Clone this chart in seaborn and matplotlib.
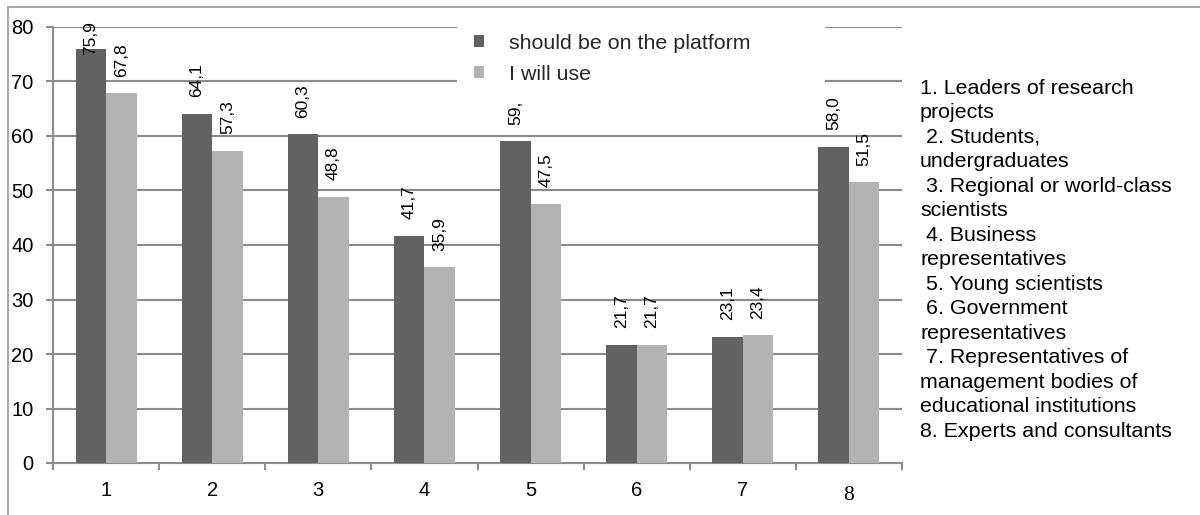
import matplotlib
matplotlib.use("Agg")
import matplotlib.pyplot as plt
import seaborn as sns
import pandas as pd
from matplotlib.patches import Rectangle
from matplotlib.ticker import MultipleLocator, FixedLocator

categories = ["1", "2", "3", "4", "5", "6", "7", "8"]
series_names = ["should be on the platform", "I will use"]
should_be = [75.9, 64.1, 60.3, 41.7, 59.0, 21.7, 23.1, 58.0]
will_use = [67.8, 57.3, 48.8, 35.9, 47.5, 21.7, 23.4, 51.5]
should_be_labels = ["75,9", "64,1", "60,3", "41,7", "59,", "21,7", "23,1", "58,0"]
will_use_labels = ["67,8", "57,3", "48,8", "35,9", "47,5", "21,7", "23,4", "51,5"]
side_text = [
    "1. Leaders of research",
    "projects",
    " 2. Students,",
    "undergraduates",
    " 3. Regional or world-class",
    "scientists",
    " 4. Business",
    "representatives",
    " 5. Young scientists",
    " 6. Government",
    "representatives",
    " 7. Representatives of",
    "management bodies of",
    "educational institutions",
    "8. Experts and consultants",
]

sns.set_theme(style="white")
plt.rcParams["font.family"] = ["Liberation Sans", "DejaVu Sans"]

df = pd.DataFrame({
    "cat": categories * 2,
    "series": [series_names[0]] * len(categories) + [series_names[1]] * len(categories),
    "value": should_be + will_use,
})

DARK = "#626262"
LIGHT = "#b3b3b3"
GRID = "#8c8c8c"

fig = plt.figure(figsize=(12, 5.15), dpi=100)
ax = fig.add_axes([53 / 1200, 52 / 515, 849 / 1200, 436 / 515])

sns.barplot(data=df, x="cat", y="value", hue="series", order=categories,
            hue_order=series_names, palette=[DARK, LIGHT], width=0.575,
            gap=0, saturation=1, ax=ax, edgecolor="none", linewidth=0, zorder=3)

ax.set_ylim(0, 80)
ax.set_xlim(-0.5, len(categories) - 0.5)
ax.yaxis.set_major_locator(MultipleLocator(10))
ax.grid(axis="y", color=GRID, linewidth=1.5, zorder=0)
ax.set_axisbelow(True)
for s in ["top", "right"]:
    ax.spines[s].set_visible(False)
for s in ["left", "bottom"]:
    ax.spines[s].set_color(GRID)
    ax.spines[s].set_linewidth(1.5)

ax.set_xlabel("")
ax.set_ylabel("")
ax.tick_params(axis="y", which="major", length=5, width=1.5, color=GRID,
               labelsize=14.5, labelcolor="black", pad=9, left=True)
ax.tick_params(axis="x", which="major", length=0, labelsize=14.5,
               labelcolor="black", pad=13)
ax.xaxis.set_minor_locator(FixedLocator([i - 0.5 for i in range(len(categories) + 1)]))
ax.tick_params(axis="x", which="minor", length=5, width=1.5, color=GRID, bottom=True)
xt = ax.get_xticklabels()
xt[-1].set_fontfamily(["Liberation Serif"])
xt[-1].set_fontsize(15.5)
xt[-1].set_y(-0.012)

# data labels
for cont, labs in zip(ax.containers, [should_be_labels, will_use_labels]):
    for bar, lab in zip(cont, labs):
        h = bar.get_height()
        off = 12 if h < 75 else -4
        ax.annotate(lab, (bar.get_x() + bar.get_width() / 2, h),
                    xytext=(0, off), textcoords="offset points",
                    ha="center", va="bottom", rotation=90, fontsize=12.5,
                    color="black", zorder=5, annotation_clip=False)

# legend
leg = ax.legend(loc="upper left",
                bbox_to_anchor=(457 / 1200, 1 - 22 / 515, (825 - 457) / 1200, 0.01),
                bbox_transform=fig.transFigure, mode="expand", frameon=True,
                fontsize=15.4, handlelength=0.47, handleheight=0.47,
                handletextpad=1.15, labelspacing=0.55, borderpad=0.8,
                borderaxespad=0, title=None)
frame = leg.get_frame()
frame.set_facecolor("white")
frame.set_edgecolor("none")
frame.set_alpha(1)
leg.set_zorder(10)

# side text
fig.text(920 / 1200, 1 - 79 / 515, "\n".join(side_text), ha="left", va="top",
         fontsize=15.4, linespacing=1.365, color="black")

# outer frame
fig.add_artist(Rectangle((8 / 1200, -0.01), 1.2, 1 - 7 / 515 + 0.01,
                         transform=fig.transFigure, fill=False,
                         edgecolor="#9a9a9a", linewidth=1.2))

fig.savefig("out.png", dpi=100)
